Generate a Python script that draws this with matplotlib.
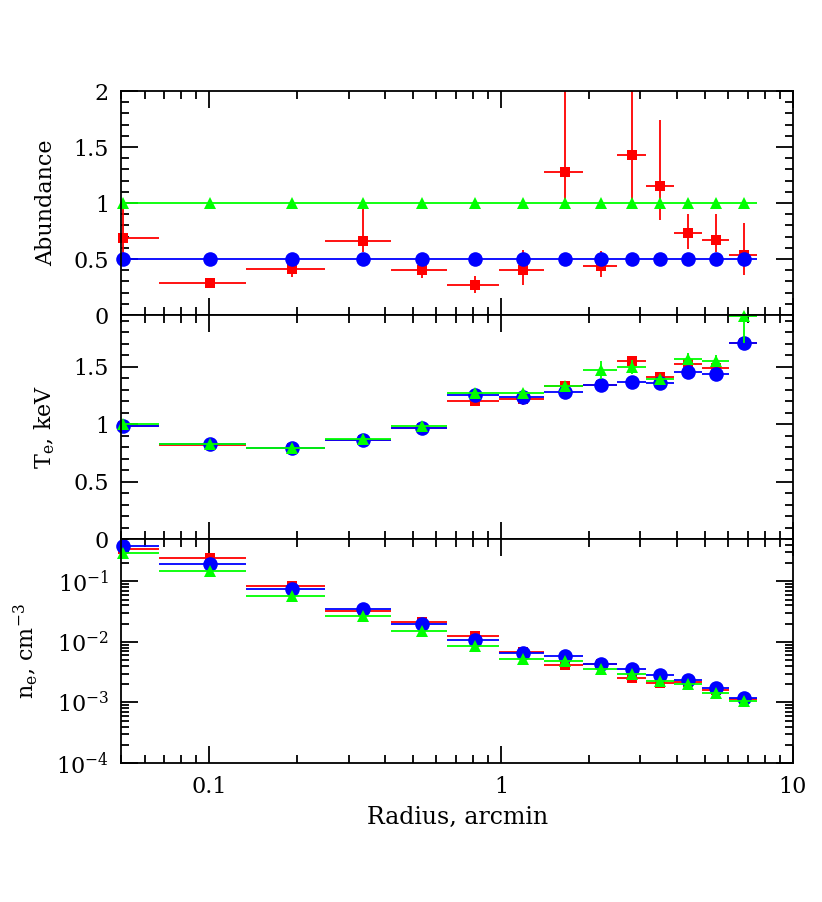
from matplotlib import pyplot as plt
from matplotlib import ticker
import numpy as np

plt.rcParams["font.family"] = "DejaVu Serif"
plt.rcParams["mathtext.fontset"] = "dejavuserif"
plt.rcParams["font.size"] = 16

# radial bins (arcmin)
r_lo = [0.0335, 0.0673, 0.134, 0.25, 0.42, 0.65, 0.98, 1.40, 1.90, 2.50, 3.13, 3.90, 4.86, 6.05]
r_hi = [0.0673, 0.134, 0.25, 0.42, 0.65, 0.98, 1.40, 1.90, 2.50, 3.13, 3.90, 4.86, 6.05, 7.55]

# abundance
ab_red = [0.69, 0.29, 0.41, 0.66, 0.40, 0.27, 0.40, 1.28, 0.44, 1.43, 1.15, 0.73, 0.67, 0.54]
ab_red_up = [1.00, 0.31, 0.45, 1.00, 0.45, 0.35, 0.58, 2.50, 0.57, 2.50, 1.74, 0.90, 0.90, 0.82]
ab_red_lo = [0.50, 0.27, 0.34, 0.56, 0.33, 0.20, 0.27, 1.00, 0.34, 1.00, 0.85, 0.59, 0.56, 0.36]
ab_blue = [0.5] * 14
ab_green = [1.0] * 14

# temperature, keV
t_red = [0.98, 0.82, 0.79, 0.86, 0.97, 1.20, 1.22, 1.33, 1.34, 1.55, 1.41, 1.52, 1.49, 1.71]
t_red_err = [0.03, 0.02, 0.02, 0.02, 0.03, 0.04, 0.05, 0.03, 0.04, 0.04, 0.04, 0.04, 0.04, 0.04]
t_blue = [0.98, 0.83, 0.79, 0.86, 0.97, 1.25, 1.24, 1.28, 1.34, 1.37, 1.36, 1.45, 1.44, 1.71]
t_blue_err = [0.02, 0.02, 0.02, 0.02, 0.02, 0.03, 0.03, 0.03, 0.03, 0.03, 0.03, 0.04, 0.05, 0.06]
t_green = [1.00, 0.83, 0.79, 0.87, 0.98, 1.27, 1.27, 1.33, 1.47, 1.50, 1.39, 1.57, 1.55, 1.94]
t_green_err = [0.02, 0.02, 0.02, 0.02, 0.02, 0.03, 0.03, 0.03, 0.08, 0.06, 0.04, 0.05, 0.05, 0.23]

# electron density, cm^-3
n_red = [0.34, 0.245, 0.083, 0.032, 0.021, 0.0125, 0.0068, 0.0042, 0.00436, 0.00255, 0.0021, 0.00216, 0.00162, 0.00115]
n_blue = [0.38, 0.197, 0.076, 0.0355, 0.0198, 0.0109, 0.00655, 0.00575, 0.00436, 0.0035, 0.00279, 0.00237, 0.00173, 0.00119]
n_green = [0.29, 0.147, 0.0567, 0.0268, 0.0149, 0.00855, 0.00527, 0.00475, 0.0036, 0.0029, 0.0023, 0.00203, 0.00145, 0.00104]

r_lo = np.array(r_lo)
r_hi = np.array(r_hi)
r = (r_lo + r_hi) / 2
dr = (r_hi - r_lo) / 2

fig, axs = plt.subplots(3, 1, sharex=True, figsize=(8.22, 9.02), dpi=100)
fig.subplots_adjust(left=0.1478, right=0.9647, bottom=0.1541, top=0.8991, hspace=0)
ax1, ax2, ax3 = axs

red = dict(fmt="s", color="#ff0000", ms=7, mew=0, lw=1.3, capsize=0, zorder=2)
blue = dict(fmt="o", color="#0000ff", ms=10.5, mew=0, lw=1.3, capsize=0, zorder=3)
green = dict(fmt="^", color="#00ff00", ms=8, mew=0, lw=1.3, capsize=0, zorder=4)


def eb(ax, y, style, yerr=None):
    # markers are not clipped at the frame, bars are
    cont = ax.errorbar(r, y, xerr=dr, yerr=yerr, **style)
    cont[0].set_clip_on(False)


# abundance
ab_red = np.array(ab_red)
yerr = [ab_red - np.array(ab_red_lo), np.array(ab_red_up) - ab_red]
eb(ax1, ab_red, red, yerr)
eb(ax1, ab_blue, blue)
eb(ax1, ab_green, green)
ax1.set_ylim(0, 2)
ax1.set_yticks([0, 0.5, 1, 1.5, 2])
ax1.yaxis.set_minor_locator(ticker.MultipleLocator(0.1))
ax1.set_ylabel("Abundance", labelpad=12)

# temperature
eb(ax2, t_red, red, t_red_err)
eb(ax2, t_blue, blue, t_blue_err)
eb(ax2, t_green, green, t_green_err)
ax2.set_ylim(0, 1.95)
ax2.set_yticks([0, 0.5, 1, 1.5])
ax2.yaxis.set_minor_locator(ticker.MultipleLocator(0.1))
ax2.set_ylabel(r"T$_\mathrm{e}$, keV", labelpad=12)

for ax in (ax1, ax2):
    ax.yaxis.set_major_formatter(ticker.FuncFormatter(lambda v, p: "%g" % v))

# density
eb(ax3, n_red, red)
eb(ax3, n_blue, blue)
eb(ax3, n_green, green)
ax3.set_yscale("log")
ax3.set_ylim(1e-4, 0.5)
ax3.yaxis.set_major_locator(ticker.LogLocator(base=10, numticks=10))
ax3.yaxis.set_minor_locator(ticker.LogLocator(base=10, subs=np.arange(2, 10), numticks=20))
ax3.yaxis.set_minor_formatter(ticker.NullFormatter())
ax3.set_ylabel(r"n$_\mathrm{e}$, cm$^{-3}$", labelpad=12)

ax3.set_xscale("log")
ax3.set_xlim(0.05, 10)
ax3.xaxis.set_major_formatter(ticker.FuncFormatter(lambda v, p: "%g" % v))
ax3.xaxis.set_minor_locator(ticker.LogLocator(base=10, subs=np.arange(2, 10), numticks=20))
ax3.xaxis.set_minor_formatter(ticker.NullFormatter())
ax3.set_xlabel("Radius, arcmin", labelpad=6, fontsize=17)

for ax in axs:
    for s in ax.spines.values():
        s.set_linewidth(1.3)
        s.set_zorder(5)
    ax.tick_params(which="both", direction="in", top=True, right=True, width=1.3)
    ax.tick_params(which="major", length=12)
    ax.tick_params(which="minor", length=6)
    ax.tick_params(axis="y", pad=9)
    ax.tick_params(axis="x", pad=9)

fig.savefig("out.png", dpi=100)
